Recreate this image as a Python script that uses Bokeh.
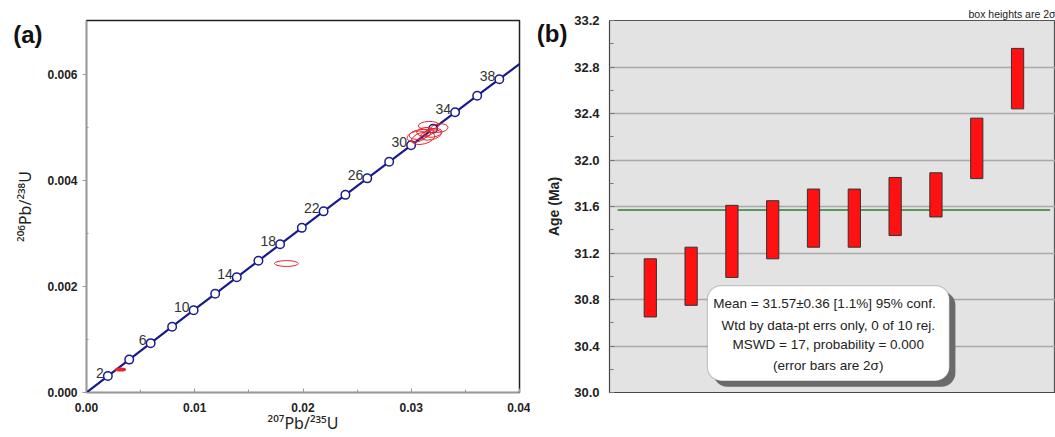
from bokeh.plotting import figure
from bokeh.models import (BoxAnnotation, ColumnDataSource, CustomJSTickFormatter, FixedTicker,
                          Label, LinearAxis, NumeralTickFormatter, Range1d)
from bokeh.layouts import row
from bokeh.embed import file_html
from bokeh.resources import INLINE
from bokeh.core.properties import value

FONT = "Liberation Sans"
SUP_FONT = "Noto Sans"

# ---------------- Panel (a): concordia ----------------
conc_age = [0, 2, 4, 6, 8, 10, 12, 14, 16, 18, 20, 22, 24, 26, 28, 30, 32, 34, 36, 38, 40]
conc_207_235 = [0.0, 0.0019716, 0.0039472, 0.0059266, 0.0079099, 0.0098971, 0.011888, 0.013883,
                0.015882, 0.017885, 0.019892, 0.021903, 0.023918, 0.025937, 0.027960, 0.029986,
                0.032017, 0.034052, 0.036091, 0.038133, 0.040180]
conc_206_238 = [0.0, 0.00031030, 0.00062069, 0.00093118, 0.0012418, 0.0015525, 0.0018632, 0.0021741,
                0.0024851, 0.0027962, 0.0031073, 0.0034186, 0.0037299, 0.0040414, 0.0043530, 0.0046646,
                0.0049763, 0.0052882, 0.0056001, 0.0059122, 0.0062243]
label_ages = [2, 6, 10, 14, 18, 22, 26, 30, 34, 38]

ell_x = [0.00314, 0.01847, 0.03050, 0.03080, 0.03110, 0.03130, 0.03160, 0.03180, 0.03200, 0.03260]
ell_y = [0.000434, 0.002434, 0.004830, 0.004870, 0.004800, 0.004920, 0.005040, 0.004860, 0.004900, 0.004990]
ell_w = [0.0009, 0.0022, 0.0018, 0.0020, 0.0022, 0.0016, 0.0019, 0.0020, 0.0017, 0.0016]
ell_h = [0.00005, 0.00011, 0.00020, 0.00018, 0.00022, 0.00016, 0.00015, 0.00018, 0.00016, 0.00016]
ell_ang = [0.0, 0.0, 0.2, 0.15, 0.25, 0.1, 0.05, 0.2, 0.15, 0.1]

x_ticks_a = [0.0, 0.01, 0.02, 0.03, 0.04]
y_ticks_a = [0.0, 0.002, 0.004, 0.006]

NAVY = "#1a1a8e"
RED = "#e8262a"


def panel_tag(text, y, standoff):
    """An extra, line-less left axis whose single tick label is the panel letter."""
    return LinearAxis(ticker=FixedTicker(ticks=[y]),
                      formatter=CustomJSTickFormatter(code='return "%s";' % text),
                      axis_line_color=None, major_tick_line_color=None, minor_tick_line_color=None,
                      major_tick_in=0, major_tick_out=0, major_label_standoff=standoff,
                      major_label_text_font=FONT, major_label_text_font_style="bold",
                      major_label_text_font_size="24px", major_label_text_color="#111111")


pa = figure(width=530, height=437, x_range=Range1d(0, 0.04), y_range=Range1d(0, 0.00702),
            output_backend="svg", toolbar_location=None,
            min_border_left=86, min_border_right=11, min_border_top=20, min_border_bottom=45)
pa.grid.visible = False
pa.outline_line_color = "#222222"
pa.outline_line_width = 1.5

pa.xaxis.ticker = FixedTicker(ticks=x_ticks_a, minor_ticks=[0.005, 0.015, 0.025, 0.035])
pa.yaxis.ticker = FixedTicker(ticks=y_ticks_a, minor_ticks=[0.001, 0.003, 0.005])
pa.xaxis.formatter = NumeralTickFormatter(format="0.00")
pa.yaxis.formatter = NumeralTickFormatter(format="0.000")
for ax in (pa.xaxis[0], pa.yaxis[0]):
    ax.axis_line_color = "#999999"
    ax.major_tick_line_color = "#999999"
    ax.minor_tick_line_color = "#999999"
    ax.major_label_text_font = FONT
    ax.major_label_text_font_style = "bold"
    ax.major_label_text_font_size = "12px"
    ax.major_label_text_color = "#222222"
    ax.axis_label_text_font = SUP_FONT
    ax.axis_label_text_font_style = "normal"
    ax.axis_label_text_color = "#222222"
pa.xaxis.major_tick_in = 4
pa.xaxis.major_tick_out = 0
pa.xaxis.minor_tick_in = 3
pa.xaxis.minor_tick_out = 0
pa.xaxis.major_label_standoff = 10
pa.xaxis.axis_label = "²⁰⁷Pb/²³⁵U"
pa.xaxis.axis_label_text_font_size = "16px"
pa.xaxis.axis_label_standoff = -3
pa.yaxis.major_tick_in = 0
pa.yaxis.major_tick_out = 4
pa.yaxis.minor_tick_in = 2
pa.yaxis.minor_tick_out = 0
pa.yaxis.major_label_standoff = 5
pa.yaxis.axis_label = "²⁰⁶Pb/²³⁸U"
pa.yaxis.axis_label_text_font_size = "16px"
pa.yaxis.axis_label_standoff = 8
pa.add_layout(panel_tag("(a)", 0.006756, -31), "left")

pa.line(conc_207_235, conc_206_238, line_color=NAVY, line_width=2.2)
mk = ColumnDataSource(dict(x=conc_207_235[1:-1], y=conc_206_238[1:-1]))
pa.scatter("x", "y", source=mk, marker="circle", size=8.5, fill_color="white",
           line_color=NAVY, line_width=1.5)

lab_idx = [conc_age.index(a) for a in label_ages]
lab_src = ColumnDataSource(dict(x=[conc_207_235[i] for i in lab_idx],
                                y=[conc_206_238[i] for i in lab_idx],
                                t=[str(a) for a in label_ages]))
pa.text("x", "y", text="t", source=lab_src, text_align="right", text_baseline="alphabetic",
        x_offset=-4, y_offset=-3, text_font=value(FONT), text_font_size="14px", text_color="#333333")

ell_src = ColumnDataSource(dict(x=ell_x[1:], y=ell_y[1:], w=ell_w[1:], h=ell_h[1:], a=ell_ang[1:]))
pa.ellipse("x", "y", width="w", height="h", angle="a", source=ell_src,
           fill_color=None, line_color=RED, line_width=1)
ell0 = ColumnDataSource(dict(x=ell_x[:1], y=ell_y[:1], w=ell_w[:1], h=ell_h[:1], a=ell_ang[:1]))
pa.ellipse("x", "y", width="w", height="h", angle="a", source=ell0,
           fill_color=RED, line_color=RED, line_width=1.5)

# ---------------- Panel (b): weighted mean ----------------
spot = [1, 2, 3, 4, 5, 6, 7, 8, 9, 10]
age_ma = [30.90, 31.00, 31.30, 31.40, 31.50, 31.50, 31.60, 31.70, 32.10, 32.70]
err_2s = [0.25, 0.25, 0.31, 0.25, 0.25, 0.25, 0.25, 0.19, 0.26, 0.26]
mean_age = 31.57
y_ticks_b = [30.0, 30.4, 30.8, 31.2, 31.6, 32.0, 32.4, 32.8, 33.2]
y_minor_b = [30.2, 30.6, 31.0, 31.4, 31.8, 32.2, 32.6, 33.0]
box_lines = ["Mean = 31.57±0.36  [1.1%]  95% conf.",
             "Wtd by data-pt errs only, 0 of 10 rej.",
             "MSWD = 17, probability = 0.000",
             "(error bars are 2σ)"]

pb = figure(width=525, height=437, x_range=Range1d(0, 10.93), y_range=Range1d(30.0, 33.2),
            output_backend="svg", toolbar_location=None, background_fill_color="#e3e3e3",
            title="box heights are 2σ",
            min_border_left=79, min_border_right=0, min_border_top=20, min_border_bottom=42)
pb.title.align = "right"
pb.title.text_font = FONT
pb.title.text_font_size = "10.5px"
pb.title.text_font_style = "normal"
pb.title.text_color = "#222222"
pb.title.standoff = 1
pb.outline_line_color = "#555555"
pb.outline_line_width = 1.2
pb.xgrid.visible = False
pb.ygrid.ticker = FixedTicker(ticks=y_ticks_b)
pb.ygrid.grid_line_color = "#a9a9a9"
pb.ygrid.grid_line_width = 1.5

pb.yaxis.ticker = FixedTicker(ticks=y_ticks_b, minor_ticks=y_minor_b)
pb.yaxis.formatter = NumeralTickFormatter(format="0.0")
pb.yaxis.major_tick_in = 5
pb.yaxis.major_tick_out = 0
pb.yaxis.minor_tick_in = 4
pb.yaxis.minor_tick_out = 0
pb.yaxis.major_tick_line_color = "#777777"
pb.yaxis.minor_tick_line_color = "#777777"
pb.yaxis.axis_line_color = "#444444"
pb.yaxis.major_label_standoff = 10
pb.yaxis.major_label_text_font = FONT
pb.yaxis.major_label_text_font_style = "bold"
pb.yaxis.major_label_text_font_size = "13px"
pb.yaxis.major_label_text_color = "#222222"
pb.yaxis.axis_label = "Age (Ma)"
pb.yaxis.axis_label_text_font = FONT
pb.yaxis.axis_label_text_font_style = "bold"
pb.yaxis.axis_label_text_font_size = "14px"
pb.yaxis.axis_label_text_color = "#222222"
pb.yaxis.axis_label_standoff = 9
pb.xaxis.ticker = FixedTicker(ticks=[])
pb.xaxis.axis_line_color = "#444444"
pb.xaxis.major_tick_line_color = None
pb.xaxis.minor_tick_line_color = None
pb.add_layout(panel_tag("(b)", 33.089, -24), "left")

line_x0, line_x1 = 0.2, 10.8
pb.line([line_x0, line_x1], [mean_age, mean_age], line_color="#2f7d32", line_width=1.5)

box_src = ColumnDataSource(dict(x=spot,
                                top=[a + e for a, e in zip(age_ma, err_2s)],
                                bottom=[a - e for a, e in zip(age_ma, err_2s)]))
pb.vbar(x="x", top="top", bottom="bottom", width=0.3, source=box_src,
        fill_color="#ff1111", line_color="#333333", line_width=1)

pb.add_layout(BoxAnnotation(left=2.547, right=8.477, top=30.869, bottom=30.049,
                            fill_color="#6a6a6a", fill_alpha=1, line_color=None, border_radius=14))
pb.add_layout(BoxAnnotation(left=2.40, right=8.33, top=30.92, bottom=30.10,
                            fill_color="white", fill_alpha=1, line_color="#555555", line_width=1.2,
                            border_radius=14))
for txt, yy in zip(box_lines, [30.768, 30.580, 30.410, 30.230]):
    pb.add_layout(Label(x=5.36, y=yy, text=txt, text_font=FONT, text_font_size="13.5px",
                        text_align="center", text_baseline="middle", text_color="#222222"))

layout = row(pa, pb)
open("out.html", "w").write(file_html(layout, INLINE))
